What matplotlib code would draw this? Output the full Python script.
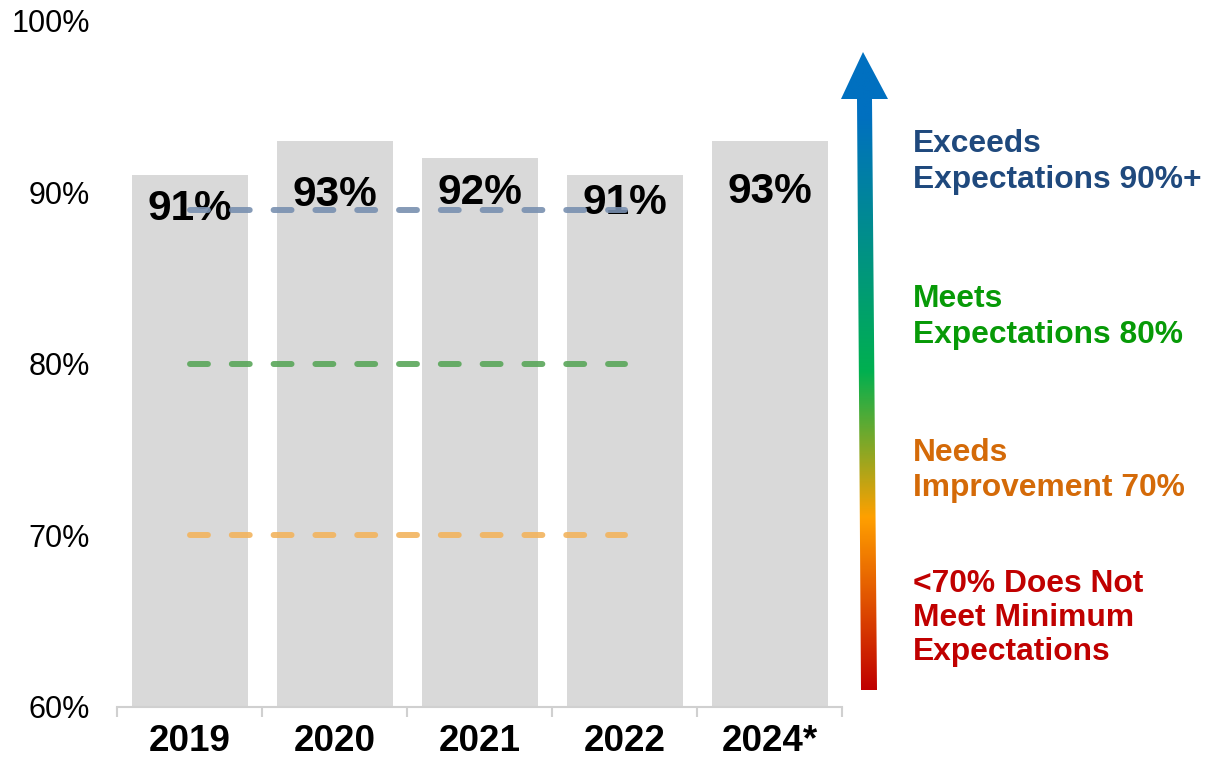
import numpy as np
import matplotlib
matplotlib.use("Agg")
import matplotlib.pyplot as plt
from matplotlib.patches import Polygon
from matplotlib.colors import LinearSegmentedColormap

plt.rcParams['font.family'] = ['Liberation Sans', 'DejaVu Sans']

# ---- data ----
years = ["2019", "2020", "2021", "2022", "2024*"]
scores = [91, 93, 92, 91, 93]
score_labels = ["91%", "93%", "92%", "91%", "93%"]
threshold_exceeds = 89
threshold_meets = 80
threshold_needs = 70
y_ticks = [60, 70, 80, 90, 100]
y_tick_labels = ["60%", "70%", "80%", "90%", "100%"]

legend_groups = [
    (["Exceeds", "Expectations 90%+"], "#1f497d"),
    (["Meets", "Expectations 80%"], "#079a07"),
    (["Needs", "Improvement 70%"], "#d46a08"),
    (["<70% Does Not", "Meet Minimum", "Expectations"], "#c00000"),
]

# ---- layout / style ----
W, H = 1210, 759
fig = plt.figure(figsize=(W / 100, H / 100), dpi=100)
ax = fig.add_axes([117 / W, 1 - 707 / H, (842 - 117) / W, (707 - 21) / H])

x = np.arange(len(years))
ax.bar(x, scores, width=0.8, color="#d9d9d9", zorder=1)
ax.set_xlim(-0.5, len(years) - 0.5)
ax.set_ylim(60, 100)

# value labels (vertical offsets in points below bar top)
label_offsets = [-24, -39, -25, -20, -37]
for xi, v, lab, off in zip(x, scores, score_labels, label_offsets):
    ax.annotate(lab, (xi, v), xytext=(0, off), textcoords="offset points",
                ha="center", va="center", fontsize=30.5, fontweight="bold",
                color="black", zorder=3)

# threshold dashed lines from first to fourth category
for val, col in [(threshold_exceeds, "#7990b0"), (threshold_meets, "#5aa65a"),
                 (threshold_needs, "#f2b45e")]:
    ln, = ax.plot([x[0], x[3]], [val, val], color=col, lw=4.3, alpha=0.9,
                  dash_capstyle="round", zorder=4)
    ln.set_dashes((3.0, 4.0))

# axes styling
for s in ["left", "right", "top"]:
    ax.spines[s].set_visible(False)
ax.spines["bottom"].set_color("#d0d0d0")
ax.spines["bottom"].set_linewidth(1.5)
ax.set_yticks(y_ticks)
ax.set_yticklabels(y_tick_labels, fontsize=22)
ax.tick_params(axis="y", length=0, pad=19.5)
ax.set_xticks(x)
ax.set_xticklabels(years, fontsize=26.5, fontweight="bold")
ax.tick_params(axis="x", which="major", length=0, pad=12)
ax.set_xticks(np.arange(-0.5, len(years)), minor=True)
ax.tick_params(axis="x", which="minor", length=7, width=1.5, color="#d0d0d0",
               direction="out")

# ---- overlay in pixel coordinates for arrow and legend text ----
ov = fig.add_axes([0, 0, 1, 1], zorder=5)
ov.set_xlim(0, W)
ov.set_ylim(H, 0)
ov.axis("off")
ov.patch.set_alpha(0)

arrow_pts = [(861, 690), (877, 690), (872, 99), (888, 99), (863, 52),
             (841, 99), (857, 99)]
poly = Polygon(arrow_pts, closed=True, facecolor="none", edgecolor="none")
ov.add_patch(poly)
cmap = LinearSegmentedColormap.from_list(
    "grad", [(0.0, "#c00000"), (0.27, "#ffa000"), (0.50, "#00b050"),
             (0.90, "#0070c0"), (1.0, "#0070c0")])
grad = np.linspace(1, 0, 256).reshape(-1, 1)
im = ov.imshow(grad, cmap=cmap, extent=(838, 892, 690, 52), aspect="auto",
               interpolation="bilinear", vmin=0, vmax=1)
im.set_clip_path(poly)
ov.set_xlim(0, W)
ov.set_ylim(H, 0)

baselines = [[152, 188], [307, 343], [461, 496], [592, 626, 660]]
for (lines, col), bls in zip(legend_groups, baselines):
    for line, b in zip(lines, bls):
        ov.text(913, b, line, fontsize=22.9, fontweight="bold", color=col,
                ha="left", va="baseline")

fig.savefig("out.png", dpi=100)
